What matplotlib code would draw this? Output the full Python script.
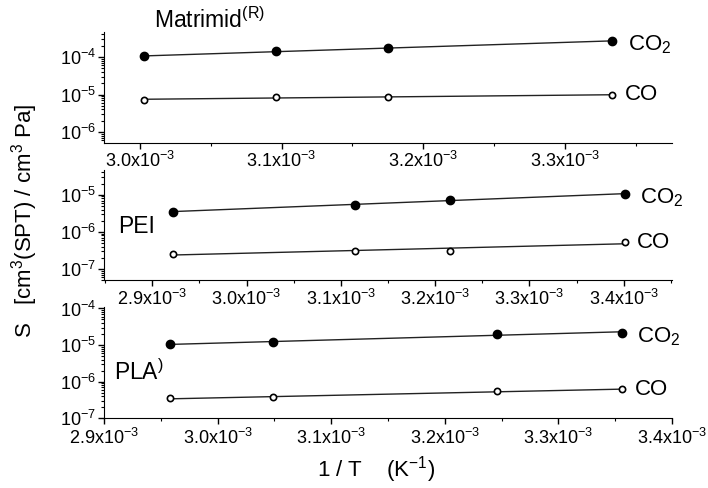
import numpy as np
import matplotlib
matplotlib.use("Agg")
import matplotlib.pyplot as plt
from matplotlib.ticker import MultipleLocator, FuncFormatter, LogLocator, NullFormatter

plt.rcParams['font.family'] = ['Liberation Sans', 'DejaVu Sans']
plt.rcParams['mathtext.fontset'] = 'custom'
plt.rcParams['mathtext.rm'] = 'Liberation Sans'
plt.rcParams['mathtext.it'] = 'Liberation Sans:italic'
plt.rcParams['axes.unicode_minus'] = False

# Matrimid
mat_x = [3.003e-3, 3.096e-3, 3.175e-3, 3.333e-3]
mat_co2 = [1.05e-4, 1.45e-4, 1.7e-4, 2.7e-4]
mat_co = [7.3e-6, 8.4e-6, 8.6e-6, 9.8e-6]

# PEI
pei_x = [2.922e-3, 3.115e-3, 3.216e-3, 3.401e-3]
pei_co2 = [3.5e-6, 5.4e-6, 7.3e-6, 1.05e-5]
pei_co = [2.55e-7, 3.1e-7, 3.1e-7, 5.3e-7]

# PLA
pla_x = [2.958e-3, 3.049e-3, 3.246e-3, 3.356e-3]
pla_co2 = [1.05e-5, 1.2e-5, 2.0e-5, 2.2e-5]
pla_co = [3.5e-7, 3.7e-7, 5.4e-7, 6.2e-7]

names = [r'Matrimid$^{\mathrm{(R)}}$', 'PEI', r'PLA$^{\mathrm{)}}$']
gases = ['CO$_2$', 'CO']

panels = [
    (mat_x, mat_co2, mat_co, (2.975e-3, 3.375e-3), (5.1e-7, 4.6e-4), [0.147, 0.707, 0.802, 0.227], (0.186, 1.11)),
    (pei_x, pei_co2, pei_co, (2.849e-3, 3.451e-3), (5e-8, 4.7e-5), [0.147, 0.426, 0.802, 0.226], (0.058, 0.49)),
    (pla_x, pla_co2, pla_co, (2.9e-3, 3.4e-3), (1e-7, 1.1e-4), [0.147, 0.143, 0.802, 0.228], (0.062, 0.41)),
]

fmt = FuncFormatter(lambda v, p: "%.1fx10$^{-3}$" % (v * 1e3))

fig = plt.figure(figsize=(7.08, 4.88), dpi=100)

for i, (x, co2, co, xl, yl, pos, npos) in enumerate(panels):
    ax = fig.add_axes(pos)
    x = np.array(x)
    for ys, filled in [(co2, True), (co, False)]:
        ys = np.array(ys)
        k, b = np.polyfit(x, np.log10(ys), 1)
        xe = np.array([x[0], x[-1]])
        ax.plot(xe, 10 ** (k * xe + b), color='#222222', lw=1, zorder=1)
        if filled:
            ax.plot(x, ys, 'o', color='black', ms=6, zorder=2)
        else:
            ax.plot(x, ys, 'o', mfc='white', mec='black', mew=1.2, ms=4.5, zorder=2)
    ax.annotate(gases[0], (x[-1], co2[-1]), xytext=(11, -3), textcoords='offset points',
                va='center', ha='left', fontsize=16)
    ax.annotate(gases[1], (x[-1], co[-1]), xytext=(9, 0), textcoords='offset points',
                va='center', ha='left', fontsize=16)
    ax.set_yscale('log')
    ax.set_xlim(*xl)
    ax.set_ylim(*yl)
    ax.yaxis.set_major_locator(LogLocator(base=10, numticks=20))
    ax.yaxis.set_minor_locator(LogLocator(base=10, subs=np.arange(2, 10), numticks=40))
    ax.yaxis.set_minor_formatter(NullFormatter())
    ax.xaxis.set_major_locator(MultipleLocator(1e-4))
    ax.xaxis.set_minor_locator(MultipleLocator(5e-5))
    ax.xaxis.set_major_formatter(fmt)
    ax.spines['top'].set_visible(False)
    ax.spines['right'].set_visible(False)
    ax.tick_params(labelsize=13, length=4, width=1, pad=2)
    ax.tick_params(which='minor', length=2.5, width=0.8)
    if i == 2:
        ax.tick_params(axis='x', pad=3)
    ax.text(npos[0], npos[1], names[i], transform=ax.transAxes, fontsize=16.5,
            ha='center', va='center')

fig.text(0.034, 0.547, 'S   [cm$^3$(SPT) / cm$^3$ Pa]', rotation=90,
         ha='center', va='center', fontsize=16)
fig.text(0.531, 0.037, '1 / T    (K$^{-1}$)', ha='center', va='center', fontsize=16)

fig.savefig('out.png', dpi=100)
